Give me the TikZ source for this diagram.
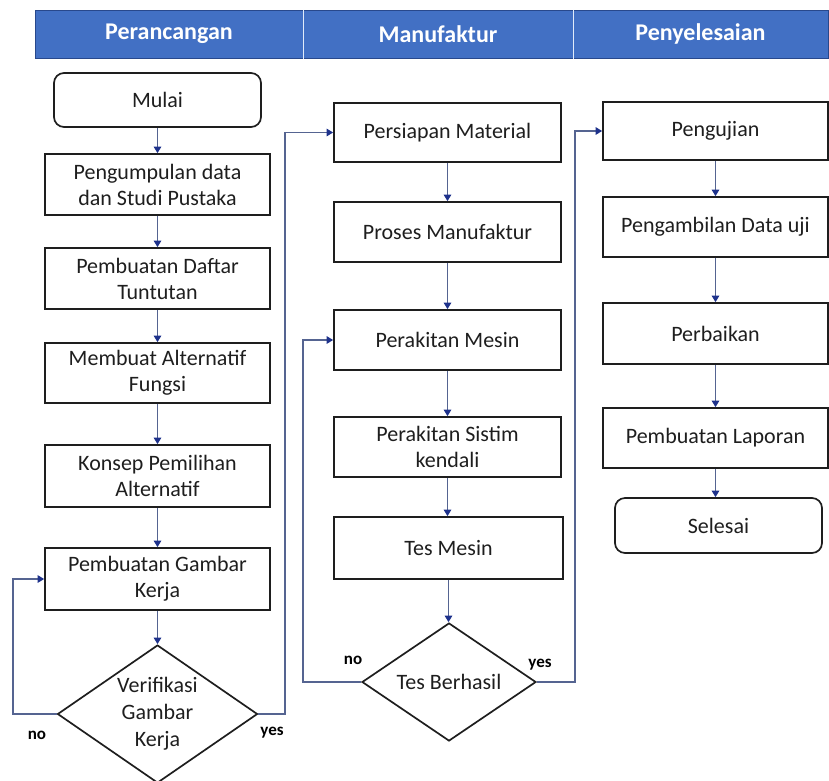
\documentclass[tikz,border=0pt]{standalone}
\usepackage{fontspec}
\setmainfont{Carlito}
\usetikzlibrary{shapes.geometric,arrows.meta}
\definecolor{hdrblue}{RGB}{66,112,196}
\definecolor{hdrline}{RGB}{40,72,140}
\definecolor{divc}{RGB}{225,235,250}
\definecolor{boxc}{RGB}{30,30,30}
\definecolor{txtc}{RGB}{30,30,30}
\definecolor{linec}{RGB}{85,100,145}
\definecolor{tipc}{RGB}{30,50,140}
\begin{document}
\begin{tikzpicture}[x=1pt,y=-1pt,
  box/.style={draw=boxc,line width=1.7pt,text=txtc,align=center,minimum width=225pt,inner sep=2pt,font=\fontsize{22}{26}\selectfont},
  term/.style={box,rounded corners=10pt,minimum width=207pt},
  dec/.style={draw=boxc,line width=1.7pt,shape=diamond,inner sep=0pt,text=txtc,align=center,font=\fontsize{22}{27}\selectfont},
  hdr/.style={fill=hdrblue,draw=hdrline,line width=1pt,minimum height=48pt,inner sep=0pt,text=white,font=\fontsize{24}{27}\selectfont\bfseries},
  conn/.style={draw=linec,line width=1.3pt},
  arr/.style={conn,-{Triangle[length=6.5pt,width=7.5pt,color=tipc]}},
  lbl/.style={text=black,inner sep=1pt,font=\fontsize{17}{20}\selectfont\bfseries}
]
\useasboundingbox (0,0) rectangle (829,780);
\clip (0,0) rectangle (829,780);

% header
\node[hdr,minimum width=268pt] (h1) at (169,34) {Perancangan};
\node[hdr,minimum width=270pt] (h2) at (438,34) {Manufaktur};
\node[hdr,minimum width=255pt] (h3) at (700.5,34) {Penyelesaian};
\draw[divc,line width=1.5pt] (h1.north east) -- (h1.south east);
\draw[divc,line width=1.5pt] (h2.north east) -- (h2.south east);

% column 1
\node[term,minimum height=54pt] (st) at (157.5,100) {Mulai};
\node[box,minimum height=61pt] (p1) at (157.5,184.5) {Pengumpulan data\\dan Studi Pustaka};
\node[box,minimum height=61pt] (p2) at (157.5,278.5) {Pembuatan Daftar\\Tuntutan};
\node[box,minimum height=60pt] (p3) at (157.5,373) {Membuat Alternatif\\Fungsi};
\node[box,minimum height=62pt] (p4) at (157.5,476) {Konsep Pemilihan\\Alternatif};
\node[box,minimum height=62pt] (p5) at (157.5,579) {Pembuatan Gambar\\Kerja};
\node[dec,aspect=1.45,minimum width=200pt,minimum height=138pt] (d1) at (157.5,714) {Verifikasi\\Gambar\\Kerja};

% column 2
\node[box,minimum width=227pt,minimum height=59pt] (m1) at (447.5,132.5) {Persiapan Material};
\node[box,minimum width=227pt,minimum height=60pt] (m2) at (447.5,232) {Proses Manufaktur};
\node[box,minimum width=227pt,minimum height=60pt] (m3) at (447.5,340) {Perakitan Mesin};
\node[box,minimum width=227pt,minimum height=60pt] (m4) at (447.5,447) {Perakitan Sistim\\kendali};
\node[box,minimum width=229pt,minimum height=62pt] (m5) at (448.5,548) {Tes Mesin};
\node[dec,aspect=1.47,minimum width=174pt,minimum height=118pt] (d2) at (449,682) {Tes Berhasil};

% column 3
\node[box,minimum height=58pt] (s1) at (715.5,131) {Pengujian};
\node[box,minimum height=60pt] (s2) at (715.5,227) {Pengambilan Data uji};
\node[box,minimum height=61pt] (s3) at (715.5,333.5) {Perbaikan};
\node[box,minimum height=60pt] (s4) at (715.5,438) {Pembuatan Laporan};
\node[term,minimum height=55pt] (s5) at (718.5,525.5) {Selesai};

% vertical arrows
\draw[arr] (st.south) -- (p1.north);
\draw[arr] (p1) -- (p2);
\draw[arr] (p2) -- (p3);
\draw[arr] (p3) -- (p4);
\draw[arr] (p4) -- (p5);
\draw[arr] (p5.south) -- (p5.south |- d1.north);
\draw[arr] (m1) -- (m2);
\draw[arr] (m2) -- (m3);
\draw[arr] (m3) -- (m4);
\draw[arr] (m4.south) -- (m4.south |- m5.north);
\draw[arr] (m5.south) -- (m5.south |- d2.north);
\draw[arr] (s1) -- (s2);
\draw[arr] (s2) -- (s3);
\draw[arr] (s3) -- (s4);
\draw[arr] (s4.south) -- (s4.south |- s5.north);

% loops
\coordinate (n1) at (13,714);
\coordinate (y1) at (285,714);
\coordinate (n2) at (303,682);
\coordinate (y2) at (575,682);
\draw[arr] (d1.west) -- (n1) |- (p5.west);
\draw[arr] (d1.east) -- (y1) |- (m1.west);
\draw[arr] (d2.west) -- (n2) |- (m3.west);
\draw[arr] (d2.east) -- (y2) |- (s1.west);

% labels
\node[lbl] (ln1) at (37,735) {no};
\node[lbl] (ly1) at (272,733) {yes};
\node[lbl] (ln2) at (353,660) {no};
\node[lbl] (ly2) at (540,665) {yes};
\end{tikzpicture}
\end{document}
